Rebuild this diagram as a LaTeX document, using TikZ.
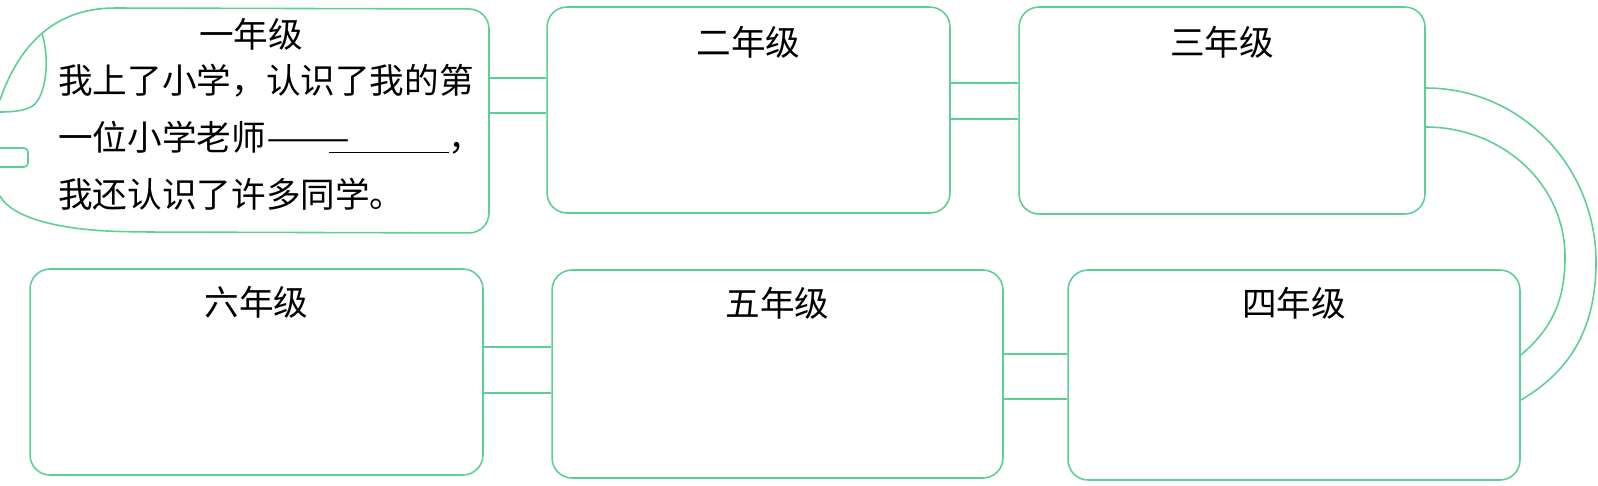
\documentclass[tikz,border=0pt]{standalone}
\usepackage{fontspec}
\setmainfont{Noto Sans CJK SC}
\usetikzlibrary{positioning}
\definecolor{mint}{RGB}{92,208,148}

\begin{document}
\begin{tikzpicture}[
    x=0.02cm, y=-0.02cm,
    year/.style={rectangle, draw=mint, line width=0.9pt, rounded corners=0.4cm, inner sep=0pt},
    grade/.style={font=\fontsize{19.7}{24}\selectfont, inner sep=0pt},
    link/.style={draw=mint, line width=0.9pt},
    memo/.style={font=\fontsize{19.7}{32.4}\selectfont, align=left, inner sep=0pt}
  ]
    \useasboundingbox (0,0) rectangle (1598,485);

    \node[inner sep=0pt, minimum width=9.78cm, minimum height=4.5cm] (g1) at (244.5,120.5) {};
    \node[year, minimum width=8.06cm, minimum height=4.12cm] (g2) at (748.5,110) {};
    \node[year, minimum width=8.12cm, minimum height=4.14cm] (g3) at (1222,110.5) {};
    \node[year, minimum width=9.04cm, minimum height=4.2cm] (g4) at (1294,375) {};
    \node[year, minimum width=9.02cm, minimum height=4.16cm] (g5) at (777.5,374) {};
    \node[year, minimum width=9.06cm, minimum height=4.12cm] (g6) at (256.5,372) {};

    \draw[link] (0,100) .. controls (18,48) and (52,8) .. (115,8)
      [rounded corners=0.4cm] -- (489,9) -- (489,233) -- (140,232)
      [sharp corners] .. controls (60,230) and (12,218) .. (0,196);
    \draw[link] (42,33) .. controls (50,60) and (46,92) .. (35,104)
      .. controls (28,111) and (12,112) .. (0,112);
    \draw[link, rounded corners=0.08cm] (0,148) -- (28,148) -- (28,167) -- (0,167);

    \node[grade] (t1) at (251,34) {一年级};
    \node[grade, below=0.4cm of g2.north] (t2) {二年级};
    \node[grade, below=0.4cm of g3.north] (t3) {三年级};
    \node[grade, below=0.35cm of g4.north] (t4) {四年级};
    \node[grade, below=0.35cm of g5.north] (t5) {五年级};
    \node[grade, below=0.36cm of g6.north] (t6) {六年级};

    \node[memo, anchor=west] (first) at (58,137) {
      我上了小学，认识了我的第\\
      一位小学老师\scalebox{1.45}[1]{——}\kern-0.6em\underline{\hspace{3.45em}}，\\
      我还认识了许多同学。
    };

    \draw[link] (g1.east |- 0,78) -- (g2.west |- 0,78);
    \draw[link] (g1.east |- 0,113) -- (g2.west |- 0,113);
    \draw[link] (g2.east |- 0,83) -- (g3.west |- 0,83);
    \draw[link] (g2.east |- 0,119) -- (g3.west |- 0,119);
    \draw[link] (g3.east |- 0,88) to[out=0, in=90] (1596,262) to[out=-90, in=30] (g4.east |- 0,400);
    \draw[link] (g3.east |- 0,127) to[out=0, in=90] (1565,257) to[out=-90, in=40] (g4.east |- 0,355);
    \draw[link] (g5.east |- 0,354) -- (g4.west |- 0,354);
    \draw[link] (g5.east |- 0,399) -- (g4.west |- 0,399);
    \draw[link] (g6.east |- 0,347) -- (g5.west |- 0,347);
    \draw[link] (g6.east |- 0,393) -- (g5.west |- 0,393);
  \end{tikzpicture}
\end{document}
